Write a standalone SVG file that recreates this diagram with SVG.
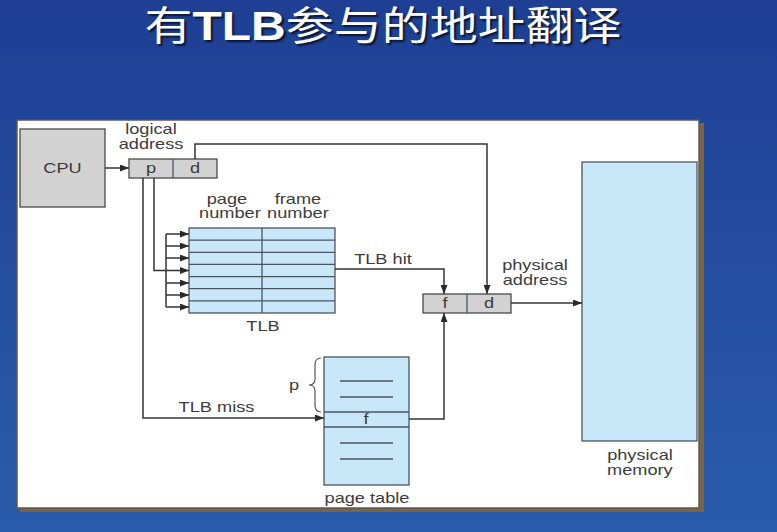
<svg xmlns="http://www.w3.org/2000/svg" width="777" height="532" viewBox="0 0 777 532">
<defs>
<linearGradient id="bg" x1="0" y1="0" x2="0" y2="1">
<stop offset="0" stop-color="#1e3f93"/>
<stop offset="1" stop-color="#2a5cab"/>
</linearGradient>
<marker id="ah" markerWidth="9" markerHeight="7" refX="9" refY="3.5" orient="auto" markerUnits="userSpaceOnUse">
<path d="M0,0 L9,3.5 L0,7 z" fill="#2a2a2a"/>
</marker>
</defs>
<style>
.t{font-family:"Liberation Sans",Arial,sans-serif;font-size:14px;fill:#3c3c3c;text-anchor:middle;transform-box:fill-box;transform-origin:center;transform:scaleX(1.3)}
.title{font-family:"Noto Sans CJK SC",sans-serif;font-size:40px;text-anchor:middle;fill:#ffffff;text-shadow:2px 2px 2px #0a1530}
.gray{fill:#d2d2d2;stroke:#4a4a4a;stroke-width:1.3}
.blue{fill:#c8e7f9;stroke:#4a5560;stroke-width:1.3}
.ln{fill:none;stroke:#333;stroke-width:1.5}
.ar{fill:none;stroke:#333;stroke-width:1.5;marker-end:url(#ah)}
.in{stroke:#4a5560;stroke-width:1.3}
</style>
<rect width="777" height="532" fill="url(#bg)"/>
<g id="title">
<text class="title" x="0" y="0" transform="translate(383,40) scale(1.2,1)">有<tspan font-family="Liberation Sans,Arial,sans-serif" font-weight="bold">TLB</tspan>参与的地址翻译</text>
</g>

<g id="panel">
<rect x="699" y="123" width="5" height="389" fill="#7a6540"/>
<rect x="20" y="508" width="684" height="4" fill="#7a6540"/>
<rect x="17" y="120" width="682" height="388" fill="#ffffff" stroke="#5a5a5a" stroke-width="1.5"/>
</g>

<g id="cpu">
<rect class="gray" x="20" y="129" width="85" height="78"/>
<text class="t" x="62.5" y="173">CPU</text>
</g>

<g id="logical-address">
<text class="t" x="151" y="134">logical</text>
<text class="t" x="151" y="149">address</text>
<rect class="gray" x="129" y="159" width="88" height="19"/>
<line class="in" x1="173" y1="159" x2="173" y2="178"/>
<text class="t" x="151" y="173">p</text>
<text class="t" x="195" y="173">d</text>
</g>

<g id="tlb">
<text class="t" x="227" y="204">page</text>
<text class="t" x="230" y="218">number</text>
<text class="t" x="298" y="204">frame</text>
<text class="t" x="298" y="218">number</text>
<rect class="blue" x="189" y="228" width="146" height="85"/>
<line class="in" x1="189" y1="240.1" x2="335" y2="240.1"/>
<line class="in" x1="189" y1="252.3" x2="335" y2="252.3"/>
<line class="in" x1="189" y1="264.4" x2="335" y2="264.4"/>
<line class="in" x1="189" y1="276.6" x2="335" y2="276.6"/>
<line class="in" x1="189" y1="288.7" x2="335" y2="288.7"/>
<line class="in" x1="189" y1="300.9" x2="335" y2="300.9"/>
<line class="in" x1="262" y1="228" x2="262" y2="313"/>
<text class="t" x="263" y="331">TLB</text>
</g>

<g id="physical-address">
<text class="t" x="535" y="270">physical</text>
<text class="t" x="535" y="285">address</text>
<rect class="gray" x="423" y="294" width="88" height="19"/>
<line class="in" x1="467" y1="294" x2="467" y2="313"/>
<text class="t" x="445" y="308">f</text>
<text class="t" x="489" y="308">d</text>
</g>

<g id="page-table">
<rect class="blue" x="324" y="357" width="85" height="128"/>
<line class="in" x1="324" y1="412" x2="409" y2="412"/>
<line class="in" x1="324" y1="427" x2="409" y2="427"/>
<line class="in" x1="340" y1="381" x2="393" y2="381"/>
<line class="in" x1="340" y1="397" x2="393" y2="397"/>
<line class="in" x1="340" y1="443" x2="393" y2="443"/>
<line class="in" x1="340" y1="459" x2="393" y2="459"/>
<text class="t" x="366" y="424">f</text>
<path d="M321,358 Q315,358 315,365 V379 Q315,385 309,385 Q315,385 315,391 V405 Q315,412 321,412" fill="none" stroke="#555" stroke-width="1.2"/>
<text class="t" x="294" y="390">p</text>
<text class="t" x="367" y="503">page table</text>
</g>

<g id="physical-memory">
<rect class="blue" x="582" y="162" width="115" height="279"/>
<text class="t" x="640" y="460">physical</text>
<text class="t" x="640" y="475">memory</text>
</g>

<g id="connectors">
<line class="ar" x1="105" y1="168" x2="129" y2="168"/>
<path class="ar" d="M195,159 V144 H487 V294"/>
<path class="ln" d="M154,178 V270.5 H166"/>
<line class="ln" x1="166" y1="234" x2="166" y2="307"/>
<line class="ar" x1="166" y1="234" x2="189" y2="234"/>
<line class="ar" x1="166" y1="246" x2="189" y2="246"/>
<line class="ar" x1="166" y1="258" x2="189" y2="258"/>
<line class="ar" x1="166" y1="270.5" x2="189" y2="270.5"/>
<line class="ar" x1="166" y1="283" x2="189" y2="283"/>
<line class="ar" x1="166" y1="295" x2="189" y2="295"/>
<line class="ar" x1="166" y1="307" x2="189" y2="307"/>
<path class="ar" d="M335,269 H444 V294"/>
<text class="t" x="383" y="264">TLB hit</text>
<path class="ar" d="M143,178 V418 H324"/>
<text class="t" x="216.5" y="412">TLB miss</text>
<path class="ar" d="M409,419 H444 V313"/>
<line class="ar" x1="511" y1="303" x2="582" y2="303"/>
</g>
</svg>
